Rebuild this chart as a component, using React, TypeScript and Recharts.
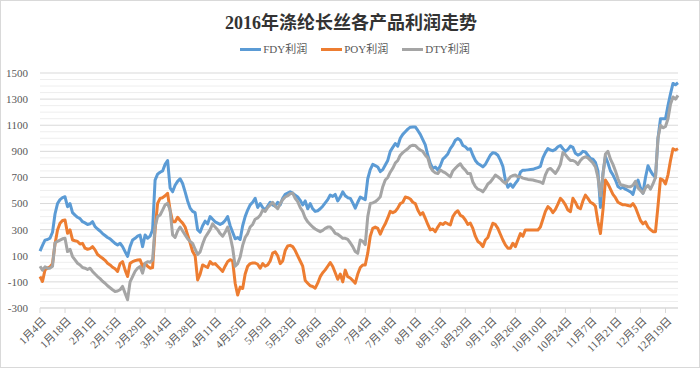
import React from 'react';
import { LineChart, Line, XAxis, YAxis, CartesianGrid, ReferenceLine } from 'recharts';

const title = '2016年涤纶长丝各产品利润走势';
const tickLabels = ['1月4日', '1月18日', '2月1日', '2月15日', '2月29日', '3月14日', '3月28日', '4月11日', '4月25日', '5月9日', '5月23日', '6月6日', '6月20日', '7月4日', '7月18日', '8月1日', '8月15日', '8月29日', '9月12日', '9月26日', '10月10日', '10月24日', '11月7日', '11月21日', '12月5日', '12月19日'];
const seriesNames = ['FDY利润', 'POY利润', 'DTY利润'];
const seriesColors = ['#5B9BD5', '#ED7D31', '#A5A5A5'];
const yTicks = [-300, -100, 100, 300, 500, 700, 900, 1100, 1300, 1500];
const minorGrid = [-250, -200, -150, -50, 0, 50, 150, 200, 250, 350, 400, 450, 550, 600, 650, 750, 800, 850, 950, 1000, 1050, 1150, 1200, 1250, 1350, 1400, 1450];

const fdy = [
  135, 180, 220, 225, 235, 280, 420, 500, 530, 545,
  552, 476, 500, 430, 412, 395, 385, 361, 352, 340,
  345, 361, 323, 305, 290, 270, 255, 240, 230, 212,
  195, 183, 196, 170, 132, 95, 170, 221, 234, 250,
  259, 170, 259, 234, 250, 300, 680, 725, 740, 750,
  800, 830, 620, 590, 640, 670, 690, 654, 590, 520,
  465, 440, 430, 300, 280, 330, 365, 345, 400, 380,
  360, 350, 340, 350, 370, 400, 330, 280, 230, 240,
  225, 330, 400, 450, 490, 510, 540, 470, 500, 470,
  450, 480, 510, 490, 480, 510, 490, 540, 570, 580,
  590, 580, 565, 550, 525, 490, 520, 460, 500, 460,
  440, 445, 460, 480, 505, 530, 565, 555, 570, 520,
  550, 590, 560, 545, 540, 505, 465, 510, 550, 540,
  530, 690, 760, 800, 790, 780, 745, 760, 795, 830,
  900, 930, 960, 940, 1000, 1030, 1050, 1070, 1085, 1087,
  1087, 1060, 1030, 990, 950, 870, 807, 769, 780, 756,
  790, 840, 858, 880, 920, 947, 985, 998, 985, 945,
  935, 915, 920, 870, 830, 807, 795, 781, 800, 835,
  871, 890, 885, 870, 833, 785, 680, 625, 650, 625,
  654, 680, 740, 756, 756, 758, 760, 762, 769, 775,
  785, 850, 890, 921, 910, 905, 915, 935, 945, 920,
  900, 915, 940, 930, 885, 871, 880, 900, 895, 870,
  845, 840, 815, 750, 470, 730, 860, 810, 750, 720,
  680, 630, 616, 625, 610, 600, 590, 570, 640, 680,
  620, 580, 700, 790, 750, 720, 700, 1000, 1150, 1150,
  1150, 1250, 1340, 1420, 1410, 1425,
];

const poy = [
  -59, -97, -8, 5, 15, 40, 190, 298, 349, 370,
  374, 272, 298, 221, 215, 210, 190, 195, 158, 150,
  155, 170, 145, 110, 95, 81, 65, 43, 30, 12,
  0, -20, 40, 55, -8, -59, 43, 55, 63, 68,
  70, 17, 43, 20, 5, 10, 300, 501, 540, 545,
  560, 578, 450, 361, 361, 395, 370, 350, 320, 260,
  200, 132, 100, -85, -40, 30, 20, 10, 55, 35,
  40, 20, 0, -20, 20, 55, 70, 60, -110, -200,
  -140, -150, -40, 20, 40, 45, 45, 35, 5, 40,
  20, 30, 60, 120, 130, 100, 40, 60, 140, 175,
  180, 170, 140, 100, 60, 20, -90, -110, -130, -135,
  -148, -110, -60, -30, -8, 20, 48, 18, -30, -80,
  -40, -100, -10, -60, -70, -90, -110, -40, 10, 30,
  30, 120, 250, 310, 320, 310, 265, 310, 345, 390,
  440, 430, 440, 465, 500, 510, 550, 545, 535, 510,
  500, 450, 415, 430, 387, 340, 298, 305, 285, 320,
  349, 340, 355, 345, 336, 400, 430, 445, 410, 400,
  374, 340, 350, 310, 250, 210, 196, 170, 221, 240,
  298, 349, 340, 310, 265, 221, 183, 158, 158, 196,
  170, 221, 270, 250, 298, 298, 298, 298, 298, 298,
  320, 380, 440, 476, 460, 430, 455, 495, 540, 520,
  490, 450, 438, 540, 510, 470, 460, 520, 565, 540,
  510, 500, 480, 360, 270, 450, 680, 650, 610, 570,
  545, 510, 500, 490, 490, 485, 480, 500, 470, 420,
  370, 345, 360, 320, 300, 285, 285, 480, 690, 680,
  650, 720, 830, 920, 910, 920,
];

const dty = [
  20, -10, 15, 5, 5, 20, 200, 210, 220, 230,
  234, 132, 150, 94, 68, 43, 30, 10, 5, -5,
  5, -20, -40, -59, -75, -95, -110, -130, -145, -160,
  -174, -170, -160, -135, -186, -237, -100, -59, -20, 5,
  17, -33, 43, 55, 50, 68, 323, 400, 412, 450,
  490, 501, 450, 260, 240, 290, 320, 290, 260, 230,
  210, 195, 150, 110, 130, 190, 240, 270, 300, 345,
  320, 300, 270, 250, 280, 320, 250, 160, 20, 40,
  90, 180, 240, 270, 320, 340, 380, 390, 410, 450,
  440, 470, 490, 510, 480, 460, 500, 530, 550, 560,
  575, 580, 540, 515, 470, 440, 390, 360, 340, 320,
  305, 295, 285, 295, 310, 320, 320, 300, 272, 265,
  250, 234, 234, 225, 200, 170, 132, 119, 221, 210,
  185, 400, 500, 505, 514, 530, 552, 629, 680, 700,
  740, 770, 810, 830, 870, 890, 905, 920, 940, 947,
  945, 925, 910, 900, 870, 850, 781, 750, 735, 730,
  756, 745, 735, 720, 705, 750, 770, 790, 805, 775,
  756, 730, 731, 665, 630, 610, 603, 590, 616, 650,
  665, 690, 718, 705, 690, 670, 654, 680, 705, 715,
  718, 705, 705, 695, 690, 685, 683, 680, 675, 670,
  665, 654, 720, 760, 769, 750, 731, 760, 800, 890,
  875, 850, 830, 830, 820, 800, 830, 850, 858, 850,
  830, 810, 780, 700, 560, 720, 880, 900, 840, 800,
  750, 690, 645, 640, 635, 629, 629, 640, 670, 620,
  600, 578, 620, 640, 610, 650, 700, 1000, 1100, 1080,
  1090, 1150, 1260, 1316, 1300, 1329,
];

const data = fdy.map((v, i) => ({ idx: i, FDY: v, POY: poy[i], DTY: dty[i] }));
const seriesKeys = ['FDY', 'POY', 'DTY'];
const xTicks = tickLabels.map((_, k) => k * 10);

const labelFont = "'Liberation Serif', 'Noto Sans CJK SC', serif";

const XTick = (props: any) => {
  const { x, y, payload } = props;
  const label = tickLabels[Math.round(payload.value / 10)];
  const ax = x + 4;
  const ay = y + 4;
  return (
    <text
      x={ax}
      y={ay}
      transform={`rotate(-45 ${ax} ${ay})`}
      textAnchor="end"
      dominantBaseline="central"
      fontSize={11}
      fill="#595959"
      fontFamily={labelFont}
    >
      {label}
    </text>
  );
};

export default function App() {
  return (
    <div
      style={{
        position: 'absolute',
        left: 0,
        top: 0,
        width: 700,
        height: 368,
        background: '#fff',
        boxSizing: 'border-box',
        border: '1px solid #d9d9d9',
        overflow: 'hidden',
      }}
    >
      <div
        style={{
          position: 'absolute',
          top: 9,
          left: 0,
          width: 700,
          textAlign: 'center',
          fontSize: 18,
          fontWeight: 'bold',
          color: '#333',
          fontFamily: labelFont,
          lineHeight: '26px',
        }}
      >
        {title}
      </div>
      <div
        style={{
          position: 'absolute',
          top: 40,
          left: 4,
          width: 700,
          display: 'flex',
          justifyContent: 'center',
          alignItems: 'center',
          fontSize: 11,
          color: '#595959',
          fontFamily: labelFont,
          lineHeight: '16px',
        }}
      >
        {seriesNames.map((n, k) => (
          <div key={n} style={{ display: 'flex', alignItems: 'center', margin: '0 7px' }}>
            <span style={{ display: 'inline-block', width: 21, height: 3, background: seriesColors[k], marginRight: 2 }} />
            <span>{n}</span>
          </div>
        ))}
      </div>
      <div style={{ position: 'absolute', left: -1, top: -1 }}>
        <LineChart width={700} height={368} data={data} margin={{ top: 73, right: 22, left: 0, bottom: 0 }}>
          <CartesianGrid vertical={false} stroke="#d9d9d9" />
          {minorGrid.map((v) => (
            <ReferenceLine key={v} y={v} stroke="#eeeeee" strokeWidth={1} />
          ))}
          <XAxis
            dataKey="idx"
            type="number"
            domain={[0, 255]}
            ticks={xTicks}
            interval={0}
            height={60}
            tick={<XTick />}
            tickLine={{ stroke: '#d9d9d9' }}
            tickSize={5}
            axisLine={{ stroke: '#d9d9d9' }}
          />
          <YAxis
            domain={[-300, 1500]}
            ticks={yTicks}
            interval={0}
            width={40}
            axisLine={false}
            tickLine={false}
            tick={{ fontSize: 11, fill: '#595959', fontFamily: labelFont }}
            tickMargin={6}
          />
          {seriesKeys.map((k, j) => (
            <Line
              key={k}
              type="linear"
              dataKey={k}
              name={seriesNames[j]}
              stroke={seriesColors[j]}
              strokeWidth={3}
              dot={false}
              isAnimationActive={false}
              strokeLinejoin="round"
            />
          ))}
        </LineChart>
      </div>
    </div>
  );
}
